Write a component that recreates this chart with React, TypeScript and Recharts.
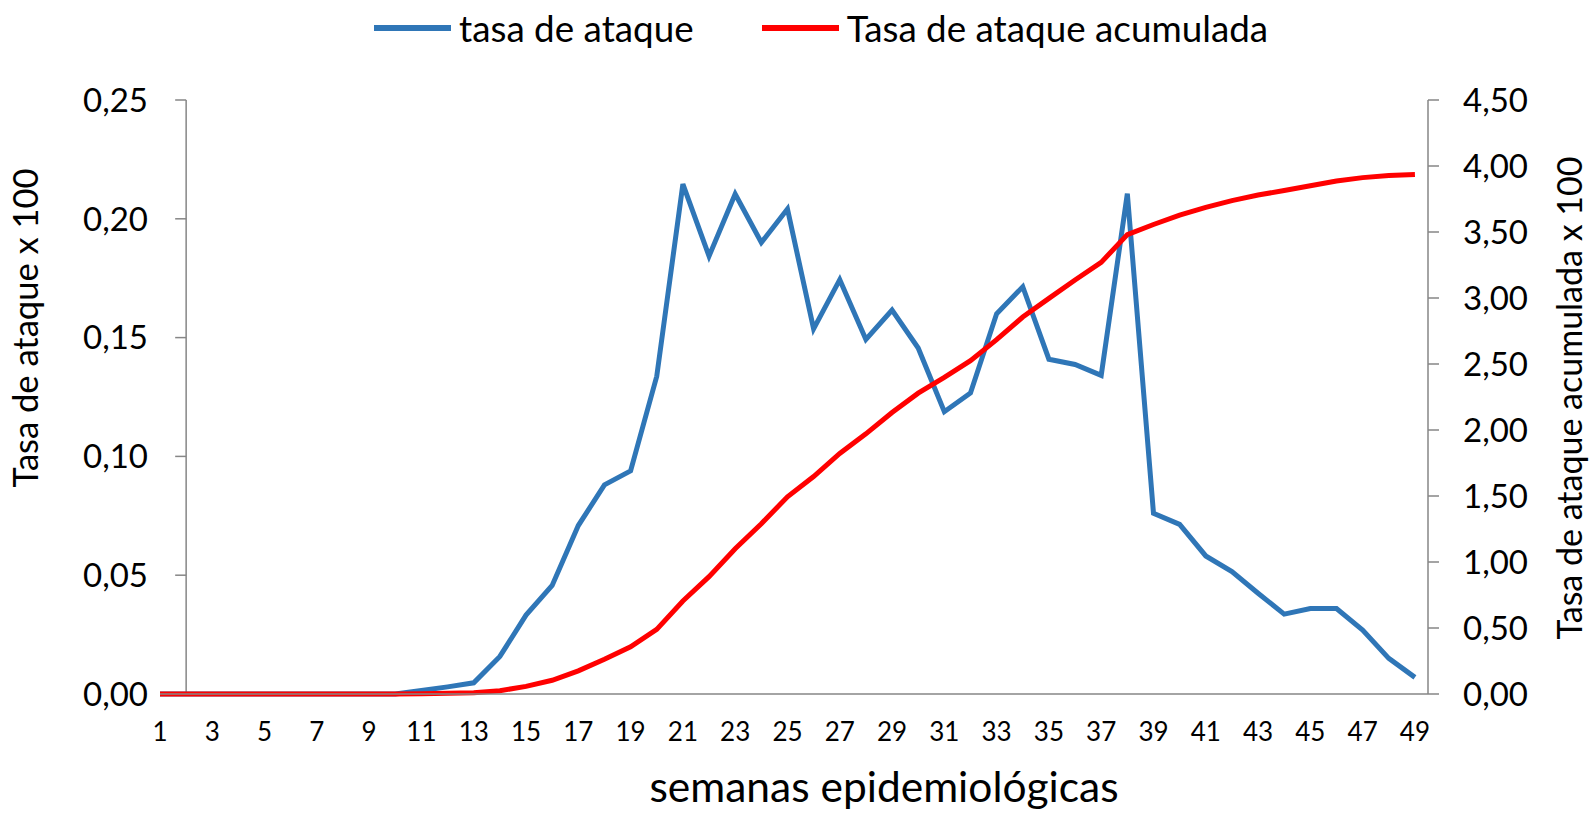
import { LineChart, Line, XAxis, YAxis, ReferenceLine } from 'recharts'

const weeks = [
  1, 2, 3, 4, 5, 6, 7, 8, 9, 10, 11, 12, 13, 14, 15, 16, 17, 18, 19, 20, 21, 22, 23, 24, 25,
  26, 27, 28, 29, 30, 31, 32, 33, 34, 35, 36, 37, 38, 39, 40, 41, 42, 43, 44, 45, 46, 47, 48, 49,
]

const tasaAtaque = [
  0, 0, 0, 0, 0, 0, 0, 0, 0, 0, 0.0015, 0.003, 0.0047, 0.0158, 0.0332, 0.0457, 0.0709, 0.088,
  0.0939, 0.1337, 0.2146, 0.1843, 0.2104, 0.19, 0.2041, 0.1537, 0.1744, 0.1492, 0.1616, 0.1456,
  0.1188, 0.1267, 0.16, 0.1714, 0.1409, 0.1387, 0.1341, 0.2106, 0.0761, 0.0714, 0.0581, 0.0515,
  0.0424, 0.0336, 0.036, 0.036, 0.0269, 0.015, 0.007,
]

const tasaAcumulada = [
  0, 0, 0, 0, 0, 0, 0, 0, 0, 0, 0.0015, 0.005, 0.01, 0.025, 0.058, 0.104, 0.175, 0.263, 0.357,
  0.49, 0.705, 0.889, 1.1, 1.29, 1.494, 1.647, 1.822, 1.971, 2.133, 2.279, 2.398, 2.525, 2.685,
  2.856, 2.997, 3.136, 3.27, 3.48, 3.557, 3.628, 3.686, 3.738, 3.78, 3.814, 3.85, 3.886, 3.912,
  3.928, 3.935,
]

const xTicks = [1, 3, 5, 7, 9, 11, 13, 15, 17, 19, 21, 23, 25, 27, 29, 31, 33, 35, 37, 39, 41, 43, 45, 47, 49]
const leftTicks = [0, 0.05, 0.1, 0.15, 0.2, 0.25]
const rightTicks = [0, 0.5, 1, 1.5, 2, 2.5, 3, 3.5, 4, 4.5]

const data = weeks.map((w, i) => ({ week: w, tasa: tasaAtaque[i], acum: tasaAcumulada[i] }))

const FONT = 'Lato, "Open Sans", sans-serif'
const GRAY = '#868686'
const BLUE = '#2F76B7'
const RED = '#FF0000'

const fmt = (v: number) => v.toFixed(2).replace('.', ',')

const series = [
  { key: 'tasa', name: 'tasa de ataque', color: BLUE },
  { key: 'acum', name: 'Tasa de ataque acumulada', color: RED },
]

function LeftTitle() {
  return (
    <text
      transform="translate(38, 328) rotate(-90)"
      textAnchor="middle"
      fontSize={34.5}
      fontFamily={FONT}
      fill="#000"
    >
      Tasa de ataque x 100
    </text>
  )
}

function RightTitle() {
  return (
    <text
      transform="translate(1582, 398) rotate(-90)"
      textAnchor="middle"
      fontSize={34}
      fontFamily={FONT}
      fill="#000"
    >
      Tasa de ataque acumulada x 100
    </text>
  )
}

function BottomTitle() {
  return (
    <text x={884} y={802} textAnchor="middle" fontSize={42.5} fontFamily={FONT} fill="#000">
      semanas epidemiológicas
    </text>
  )
}

export default function App() {
  return (
    <div style={{ position: 'absolute', left: 0, top: 0, width: 1592, height: 813, background: '#fff' }}>
      <div
        style={{
          position: 'absolute',
          top: 5,
          left: 374,
          display: 'flex',
          fontFamily: FONT,
          fontSize: 36.8,
          lineHeight: '46px',
          whiteSpace: 'nowrap',
          zIndex: 2,
        }}
      >
        {series.map((s, i) => (
          <div key={s.key} style={{ display: 'flex', alignItems: 'center', marginLeft: i ? 68 : 0 }}>
            <span style={{ display: 'inline-block', width: 77, height: 5.5, background: s.color, marginRight: 8 }} />
            <span>{s.name}</span>
          </div>
        ))}
      </div>
      <LineChart width={1592} height={813} data={data} margin={{ top: 100, right: 4, bottom: 59, left: 20 }}>
        <XAxis
          dataKey="week"
          type="number"
          domain={[1, 49.5]}
          allowDataOverflow={true}
          ticks={xTicks}
          interval={0}
          height={60}
          axisLine={{ stroke: GRAY, strokeWidth: 1.5 }}
          tickLine={false}
          tickSize={0}
          tickMargin={29}
          tick={{ fill: '#000', fontSize: 26, fontFamily: FONT }}
          label={{ content: () => <BottomTitle /> }}
        />
        <YAxis
          yAxisId="left"
          orientation="left"
          width={140}
          domain={[0, 0.25]}
          ticks={leftTicks}
          tickFormatter={fmt}
          axisLine={false}
          tickLine={false}
          tickSize={0}
          tickMargin={12}
          tick={{ fill: '#000', fontSize: 33, fontFamily: FONT }}
          label={{ content: () => <LeftTitle /> }}
        />
        <YAxis
          yAxisId="right"
          orientation="right"
          width={160}
          domain={[0, 4.5]}
          ticks={rightTicks}
          tickFormatter={fmt}
          axisLine={{ stroke: GRAY, strokeWidth: 1.5 }}
          tickLine={{ stroke: GRAY, strokeWidth: 1.5 }}
          tickSize={11}
          tickMargin={24}
          tick={{ fill: '#000', fontSize: 33, fontFamily: FONT, textAnchor: 'start' }}
          label={{ content: () => <RightTitle /> }}
        />
        <ReferenceLine yAxisId="left" x={2} stroke={GRAY} strokeWidth={1.5} />
        {leftTicks.map((t) => (
          <ReferenceLine
            key={t}
            yAxisId="left"
            segment={[
              { x: 1.58, y: t },
              { x: 2, y: t },
            ]}
            stroke={GRAY}
            strokeWidth={1.5}
          />
        ))}
        <Line
          yAxisId="left"
          type="linear"
          dataKey="tasa"
          name="tasa de ataque"
          stroke={BLUE}
          strokeWidth={5}
          dot={false}
          isAnimationActive={false}
        />
        <Line
          yAxisId="right"
          type="linear"
          dataKey="acum"
          name="Tasa de ataque acumulada"
          stroke={RED}
          strokeWidth={5}
          dot={false}
          isAnimationActive={false}
        />
      </LineChart>
    </div>
  )
}
